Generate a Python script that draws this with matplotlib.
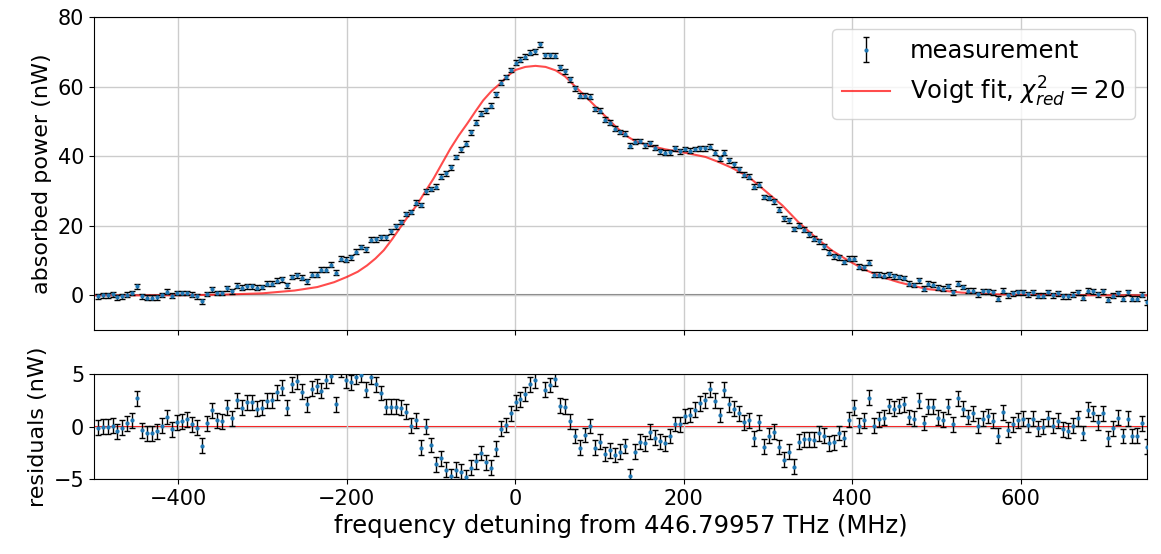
import numpy as np
import matplotlib
matplotlib.use("Agg")
import matplotlib.pyplot as plt

# ==============================
# DATA
# ==============================

# scan grid: 212 evenly spaced points
f_start, f_stop, n_points = -495.8, 750.4, 212
freq = np.linspace(f_start, f_stop, n_points)

power = [
    -0.2, 0.0, 0.0, 0.3, -0.5, -0.2, 0.2, 0.7, 2.6, -0.3,
    -0.7, -0.7, -0.5, 0.1, 1.0, -0.1, 0.7, 0.7, 0.7, 0.2,
    -0.3, -1.7, 0.4, 1.8, 0.7, 0.7, 2.0, 1.2, 2.8, 2.2,
    2.6, 2.6, 2.2, 2.4, 3.3, 3.4, 4.2, 4.6, 2.9, 5.3,
    5.8, 5.1, 4.0, 6.0, 6.0, 7.4, 7.4, 8.8, 6.5, 10.5,
    10.3, 10.9, 12.5, 13.9, 13.2, 16.0, 16.1, 16.7, 16.7, 18.4,
    19.9, 21.1, 23.4, 24.0, 26.6, 26.0, 30.0, 30.6, 31.2, 34.1,
    35.1, 36.9, 39.8, 42.0, 43.6, 46.9, 49.6, 52.3, 53.2, 54.5,
    57.8, 61.1, 62.8, 64.8, 66.9, 67.8, 68.6, 69.8, 70.2, 72.2,
    69.1, 69.1, 68.9, 65.6, 64.5, 62.2, 59.6, 57.4, 57.4, 57.1,
    53.6, 53.1, 50.5, 49.7, 47.9, 47.0, 46.5, 43.0, 44.2, 44.4,
    43.2, 43.8, 42.5, 41.5, 41.0, 41.2, 42.3, 41.5, 42.1, 41.6,
    42.1, 42.3, 42.3, 42.7, 41.0, 39.4, 41.0, 38.9, 37.7, 36.3,
    34.7, 34.1, 31.2, 31.8, 28.3, 28.0, 27.1, 24.7, 22.2, 21.6,
    19.1, 20.0, 18.9, 17.6, 16.3, 15.5, 14.1, 12.3, 11.2, 11.0,
    9.6, 10.6, 10.6, 8.2, 8.1, 9.4, 5.9, 5.9, 5.6, 6.1,
    5.5, 5.3, 5.0, 3.4, 3.0, 4.3, 1.9, 3.4, 3.1, 2.2,
    1.9, 2.7, 0.9, 3.4, 2.4, 1.4, 1.4, 0.3, 1.2, 1.2,
    0.9, -0.9, 1.4, 0.0, 0.6, 0.9, 0.9, 0.3, 0.9, -0.1,
    -0.1, 0.9, 0.0, 0.6, -0.3, -0.3, 0.2, 0.9, -0.7, 1.4,
    1.2, 0.3, 1.2, -1.2, -0.1, 0.6, -0.9, 0.9, -0.9, -0.9,
    0.2, -2.0,
]

residuals = [
    -0.1, 0.0, 0.0, 0.1, -0.45, -0.1, 0.3, 0.6, 2.7, -0.35,
    -0.65, -0.65, -0.45, 0.1, 0.9, -0.25, 0.4, 0.5, 0.7, 0.2,
    -0.1, -1.8, 0.3, 1.55, 0.6, 0.5, 1.8, 0.8, 2.5, 1.8,
    2.3, 2.3, 1.7, 1.8, 2.45, 2.5, 3.25, 3.7, 1.8, 4.0,
    4.3, 3.3, 2.1, 3.6, 3.85, 3.4, 4.4, 4.8, 2.1, 5.4,
    4.4, 4.2, 4.7, 4.9, 3.5, 4.7, 4.0, 3.2, 1.9, 1.9,
    1.9, 1.8, 1.4, 0.1, 0.6, -2.0, 0.0, -1.75, -3.6, -3.0,
    -4.1, -4.7, -4.1, -4.3, -4.8, -3.9, -3.3, -2.5, -3.4, -3.9,
    -2.1, -0.2, 0.15, 1.25, 2.3, 2.6, 3.1, 4.0, 4.4, 6.4,
    3.5, 3.95, 4.55, 2.0, 1.9, 0.5, -0.9, -2.0, -0.8, 0.05,
    -2.0, -1.45, -2.6, -2.25, -2.7, -2.4, -1.85, -4.7, -2.4, -1.45,
    -1.6, -0.5, -1.05, -1.4, -1.6, -0.9, 0.25, 0.2, 1.0, 1.1,
    1.6, 2.2, 2.5, 3.55, 2.45, 1.1, 3.5, 2.1, 1.7, 1.25,
    0.4, 0.6, -1.1, 0.4, -1.9, -0.85, -0.5, -1.95, -3.15, -2.4,
    -3.8, -1.45, -1.2, -1.2, -1.25, -0.65, -0.85, -1.6, -1.5, -0.6,
    -1.1, 0.65, 1.8, 0.1, 0.6, 2.75, 0.1, 0.7, 0.85, 1.95,
    1.7, 1.95, 2.1, 0.9, 0.75, 2.45, 0.35, 1.9, 1.9, 0.85,
    0.65, 1.9, 0.2, 2.7, 1.7, 0.9, 1.25, 0.1, 0.75, 1.0,
    0.55, -0.85, 1.35, -0.3, 0.2, 0.6, 0.75, 0.15, 0.75, -0.15,
    0.0, 0.8, 0.1, 0.55, -0.25, -0.4, 0.1, 0.8, -0.6, 1.6,
    1.25, 0.4, 1.25, -1.1, -0.15, 0.85, -0.9, 0.75, -0.9, -0.85,
    0.3, -1.9,
]

power_err = 0.7  # nW, roughly constant

# Voigt fit curve, read at sample points
fit_freq = [-500, -450, -400, -350, -300, -262, -235, -215, -200, -187,
            -176, -166, -156, -146, -136, -127, -117, -107, -97, -87,
            -77, -67, -57, -47, -38, -28, -18, -9, 0, 12,
            24, 36, 48, 59, 71, 83, 95, 107, 119, 131,
            142, 154, 166, 178, 190, 202, 214, 226, 241, 257,
            277, 297, 317, 336, 356, 376, 396, 415, 435, 455,
            475, 490, 530, 575, 635, 700, 750]
fit_power = [0.0, 0.02, 0.05, 0.2, 0.6, 1.4, 2.4, 3.8, 5.3, 6.8,
             8.6, 10.6, 13.0, 16.2, 19.7, 22.8, 25.9, 29.8, 33.6, 37.9,
             42.2, 46.0, 49.4, 53.0, 56.1, 58.8, 60.9, 63.1, 64.8, 65.7,
             66.0, 65.7, 64.7, 63.0, 60.1, 57.3, 54.4, 51.5, 48.6, 46.0,
             44.4, 43.5, 42.7, 42.0, 41.5, 41.0, 40.4, 39.8, 38.4, 36.7,
             34.1, 30.0, 25.9, 21.1, 16.8, 12.9, 9.9, 7.4, 5.3, 3.8,
             2.6, 1.8, 0.8, 0.3, 0.1, 0.03, 0.01]

# ==============================
# FIGURE
# ==============================

plt.rcParams["font.size"] = 15

fig = plt.figure(figsize=(11.61, 5.54), dpi=100)
ax = fig.add_axes([0.081, 0.404, 0.907, 0.565])
ax_res = fig.add_axes([0.081, 0.135, 0.907, 0.19], sharex=ax)

# top panel
ax.axhline(0, color="gray", lw=1.5, zorder=1)
meas = ax.errorbar(freq, power, yerr=power_err, fmt=".", color="C0", ms=4,
                   ecolor="black", elinewidth=1, capsize=2, zorder=3)
fit_line, = ax.plot(fit_freq, fit_power, color="r", alpha=0.7, lw=1.5, zorder=2)
ax.set_xlim(-500, 750)
ax.set_ylim(-10, 80)
ax.set_yticks([0, 20, 40, 60, 80])
ax.set_ylabel("absorbed power (nW)", fontsize=16)
ax.grid(True, color="#cccccc", lw=1)
ax.tick_params(labelbottom=False)
ax.legend([meas, fit_line], ["measurement", r"Voigt fit, $\chi^2_{red} = 20$"],
          loc="upper right", fontsize=17.5)

# residual panel
ax_res.axhline(0, color="r", lw=1.5, zorder=1)
ax_res.errorbar(freq, residuals, yerr=power_err, fmt=".", color="C0", ms=4,
                ecolor="black", elinewidth=1, capsize=2, zorder=3)
ax_res.set_ylim(-5, 5)
ax_res.set_yticks([-5, 0, 5])
ax_res.set_xticks([-400, -200, 0, 200, 400, 600])
ax_res.grid(True, color="#cccccc", lw=1)
ax_res.set_ylabel("residuals (nW)", fontsize=16)
ax_res.set_xlabel("frequency detuning from 446.79957 THz (MHz)", fontsize=17.5)

fig.savefig("out.png", dpi=100)
